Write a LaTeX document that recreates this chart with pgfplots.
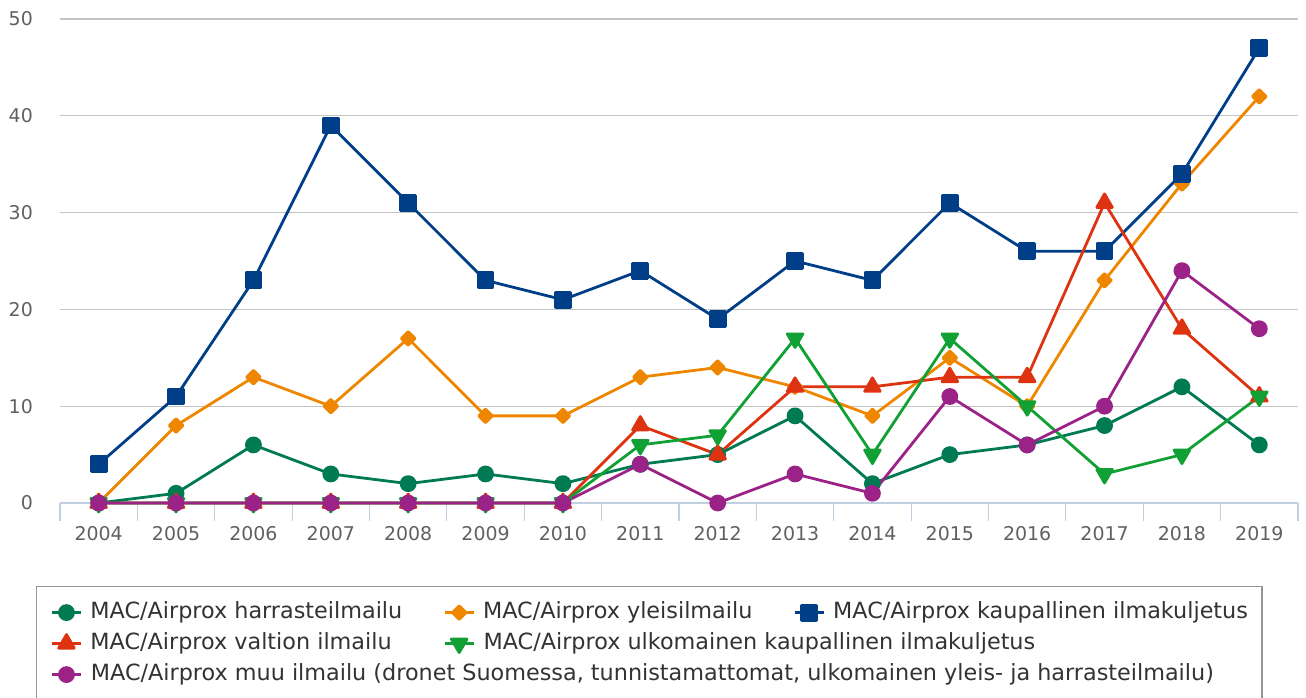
\documentclass[border=0pt]{standalone}
\usepackage{pgfplots}
\pgfplotsset{compat=1.18}
\usepackage{fontspec}
\setmainfont{DejaVu Sans}
\definecolor{cHarr}{RGB}{0,122,83}
\definecolor{cYleis}{RGB}{238,134,0}
\definecolor{cKaup}{RGB}{0,62,135}
\definecolor{cValt}{RGB}{221,51,17}
\definecolor{cUlk}{RGB}{17,160,52}
\definecolor{cMuu}{RGB}{155,35,135}
\definecolor{axisblue}{RGB}{192,208,224}
\definecolor{gridgray}{RGB}{196,196,196}
\definecolor{labelgray}{RGB}{96,96,96}
\definecolor{legendgray}{RGB}{150,150,150}
\definecolor{legendtext}{RGB}{51,51,51}
\begin{document}
\begin{tikzpicture}
\useasboundingbox (0,0) rectangle (1306bp,698bp);
\begin{axis}[
  at={(60bp,195bp)}, anchor=south west,
  scale only axis, width=1238bp, height=484bp,
  xmin=-0.5, xmax=15.5, ymin=0, ymax=50,
  clip=false,
  axis x line*=bottom, axis y line*=left,
  x axis line style={draw=axisblue, line width=1.2bp, -},
  y axis line style={draw=none},
  xtick={0,1,2,3,4,5,6,7,8,9,10,11,12,13,14,15},
  xticklabels={2004,2005,2006,2007,2008,2009,2010,2011,2012,2013,2014,2015,2016,2017,2018,2019},
  ytick={0,10,20,30,40,50},
  major tick length=0pt,
  extra x ticks={-0.5,0.5,1.5,2.5,3.5,4.5,5.5,6.5,7.5,8.5,9.5,10.5,11.5,12.5,13.5,14.5,15.5},
  extra x tick labels={},
  extra x tick style={major tick length=18bp, tick align=outside, tick style={draw=axisblue, line width=1.2bp}, grid=none},
  ymajorgrids, grid style={draw=gridgray, line width=1.2bp},
  tick label style={font=\fontsize{19}{19}\selectfont, text=labelgray},
  /pgf/number format/assume math mode=true,
  xticklabel style={anchor=north, inner sep=0pt, yshift=-23bp},
  yticklabel style={anchor=east, inner sep=0pt, xshift=-27bp},
  every axis plot/.append style={line width=2.8bp, line join=round},
  legend cell align=left,
  legend image code/.code={\draw[mark repeat=2,mark phase=2] plot coordinates {(0bp,0bp)(14.5bp,0bp)(29bp,0bp)};},
  legend style={at={(-0.01939,-0.17149)}, anchor=north west, draw=legendgray, line width=1.2bp, fill=white,
    font=\fontsize{22.4}{26}\selectfont, text=legendtext,
    inner xsep=14bp, inner ysep=15bp, row sep=9bp,
    nodes={inner sep=0pt, text height=17bp, text depth=5bp},
    /tikz/column sep=8bp,
    /tikz/every even column/.append style={column sep=41bp}},
  legend columns=3,
]
\addplot[color=cHarr, mark=*, mark size=7bp, mark options={solid, draw=none}] coordinates {
(0,0)(1,1)(2,6)(3,3)(4,2)(5,3)(6,2)(7,4)(8,5)(9,9)(10,2)(11,5)(12,6)(13,8)(14,12)(15,6)};
\addlegendentry{MAC/Airprox harrasteilmailu}
\addplot[color=cYleis, mark=diamond*, mark size=6.8bp, mark options={solid, draw=none, xscale=1.333}] coordinates {
(0,0)(1,8)(2,13)(3,10)(4,17)(5,9)(6,9)(7,13)(8,14)(9,12)(10,9)(11,15)(12,10)(13,23)(14,33)(15,42)};
\addlegendentry{MAC/Airprox yleisilmailu}
\addplot[color=cKaup, mark=square*, mark size=7.5bp, mark options={solid, draw=none}] coordinates {
(0,4)(1,11)(2,23)(3,39)(4,31)(5,23)(6,21)(7,24)(8,19)(9,25)(10,23)(11,31)(12,26)(13,26)(14,34)(15,47)};
\addlegendentry{MAC/Airprox kaupallinen ilmakuljetus}
\addplot[color=cValt, mark=triangle*, mark size=9bp, mark options={solid, draw=none}] coordinates {
(0,0)(1,0)(2,0)(3,0)(4,0)(5,0)(6,0)(7,8)(8,5)(9,12)(10,12)(11,13)(12,13)(13,31)(14,18)(15,11)};
\addlegendentry{MAC/Airprox valtion ilmailu}
\addplot[color=cUlk, mark=triangle*, mark size=9bp, mark options={solid, draw=none, rotate=180}] coordinates {
(0,0)(1,0)(2,0)(3,0)(4,0)(5,0)(6,0)(7,6)(8,7)(9,17)(10,5)(11,17)(12,10)(13,3)(14,5)(15,11)};
\addlegendentry{\makebox[0pt][l]{MAC/Airprox ulkomainen kaupallinen ilmakuljetus}}
\addlegendimage{empty legend}
\addlegendentry{}
\addplot[color=cMuu, mark=*, mark size=7bp, mark options={solid, draw=none}] coordinates {
(0,0)(1,0)(2,0)(3,0)(4,0)(5,0)(6,0)(7,4)(8,0)(9,3)(10,1)(11,11)(12,6)(13,10)(14,24)(15,18)};
\addlegendentry{\makebox[0pt][l]{MAC/Airprox muu ilmailu (dronet Suomessa, tunnistamattomat, ulkomainen yleis- ja harrasteilmailu)}}
\end{axis}
\end{tikzpicture}
\end{document}
